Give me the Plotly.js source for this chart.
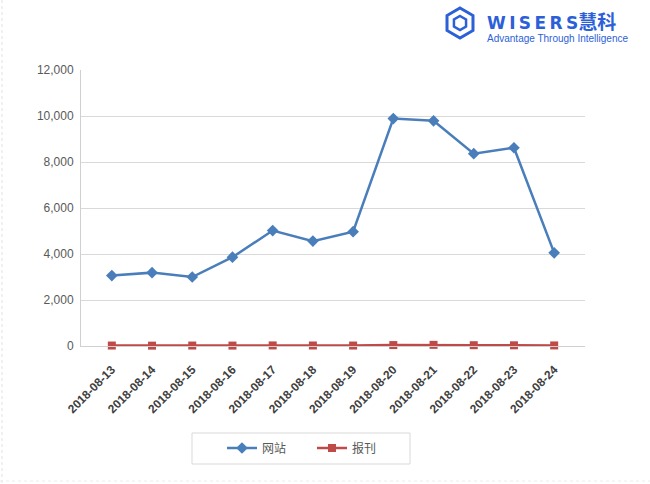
<!DOCTYPE html>
<html>
<head>
<meta charset="utf-8">
<script src="https://cdn.plot.ly/plotly-3.0.1.min.js"></script>
<style>
  html, body { margin: 0; padding: 0; background: #fff; }
  #chart { width: 650px; height: 484px; }
</style>
</head>
<body>
<div id="chart"></div>
<script>
var dates = ['2018-08-13', '2018-08-14', '2018-08-15', '2018-08-16', '2018-08-17', '2018-08-18',
             '2018-08-19', '2018-08-20', '2018-08-21', '2018-08-22', '2018-08-23', '2018-08-24'];
var website = [3060, 3190, 3000, 3860, 5020, 4560, 4970, 9890, 9790, 8360, 8620, 4050];
var press = [20, 15, 20, 18, 25, 22, 20, 40, 50, 35, 30, 25];
var yTicks = [0, 2000, 4000, 6000, 8000, 10000, 12000];

// plot area in pixels: left 81, right 585, top 70, bottom 346
function px(x) { return (x - 81) / 504; }
function py(y) { return (346 - y) / 276; }

function hexPath(cx, cy, r) {
  var pts = [];
  for (var i = 0; i < 6; i++) {
    var a = Math.PI / 180 * (60 * i - 90);
    pts.push(px(cx + r * Math.cos(a)) + ',' + py(cy + r * Math.sin(a)));
  }
  return 'M' + pts.join(' L') + ' Z';
}

var trace1 = {
  x: dates,
  y: website,
  name: '网站',
  type: 'scatter',
  mode: 'lines+markers',
  line: { color: '#4a7ebb', width: 2.5 },
  marker: { symbol: 'diamond', size: 9, color: '#4a7ebb' },
  cliponaxis: false
};
var trace2 = {
  x: dates,
  y: press,
  name: '报刊',
  type: 'scatter',
  mode: 'lines+markers',
  line: { color: '#be4b48', width: 2.5 },
  marker: { symbol: 'square', size: 8, color: '#be4b48' },
  cliponaxis: false
};
var data = [trace1, trace2];

var logoText = '<span style="font-size:17px;font-family:DejaVu Sans"><b>W\u2009I\u2009S\u2009E\u2009R\u2009S</b></span>' +
  '<span style="font-size:19px;font-family:Noto Sans CJK SC"><b>慧科</b></span>' +
  '<br><span style="font-size:10px">Advantage Through Intelligence</span>';

var layout = {
  width: 650,
  height: 484,
  margin: { l: 81, r: 65, t: 70, b: 138 },
  paper_bgcolor: '#fff',
  plot_bgcolor: '#fff',
  font: { family: 'Liberation Sans, Arial, sans-serif', color: '#404040' },
  showlegend: true,
  legend: {
    orientation: 'h',
    x: px(222), y: py(448),
    xanchor: 'left', yanchor: 'middle',
    borderwidth: 0,
    bgcolor: 'rgba(0,0,0,0)',
    font: { family: 'Noto Sans CJK SC, sans-serif', size: 12, color: '#595959' },
    entrywidth: 45,
    itemwidth: 30
  },
  xaxis: {
    type: 'category',
    tickangle: -45,
    tickfont: { size: 12, color: '#404040', family: 'Liberation Sans, Arial, sans-serif', weight: 'bold' },
    showgrid: false,
    showline: true,
    linecolor: '#d0d0d0',
    linewidth: 1,
    ticks: '',
    ticklabelstandoff: 11,
    zeroline: false,
    fixedrange: true
  },
  yaxis: {
    range: [0, 12000],
    tickvals: yTicks,
    tickformat: ',d',
    tickfont: { size: 12, color: '#595959' },
    gridcolor: '#d9d9d9',
    gridwidth: 1,
    showline: true,
    linecolor: '#d0d0d0',
    zeroline: false,
    ticks: '',
    ticklabelstandoff: 4,
    fixedrange: true
  },
  shapes: [
    { type: 'rect', xref: 'paper', yref: 'paper', x0: px(192), x1: px(410), y0: py(433), y1: py(464),
      line: { color: '#d9d9d9', width: 1 } },
    { type: 'path', xref: 'paper', yref: 'paper', path: hexPath(460, 23, 15),
      line: { color: '#2c5fd8', width: 3 } },
    { type: 'path', xref: 'paper', yref: 'paper', path: hexPath(460, 23, 7),
      line: { color: '#2c5fd8', width: 2.5 } },
    { type: 'line', xref: 'paper', yref: 'paper', x0: px(2), x1: px(2), y0: py(0), y1: py(484),
      line: { color: '#e2e2e2', width: 1, dash: 'dot' } },
    { type: 'line', xref: 'paper', yref: 'paper', x0: px(0), x1: px(650), y0: py(481), y1: py(481),
      line: { color: '#ececec', width: 1, dash: 'dot' } }
  ],
  annotations: [
    { xref: 'paper', yref: 'paper', x: px(485), y: py(26), xanchor: 'left', yanchor: 'middle',
      align: 'left', showarrow: false, text: logoText,
      font: { family: 'Liberation Sans, Arial, sans-serif', size: 10, color: '#2c5fd8' } }
  ]
};

Plotly.newPlot('chart', data, layout, { displayModeBar: false, staticPlot: true });
</script>
</body>
</html>
